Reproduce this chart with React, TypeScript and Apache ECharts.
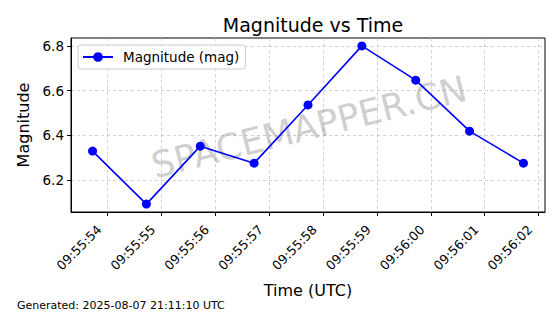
import React, { useEffect, useRef } from "react";
import * as echarts from "echarts";

const times = [
  "09:55:53.72", "09:55:54.72", "09:55:55.72", "09:55:56.72", "09:55:57.72",
  "09:55:58.72", "09:55:59.72", "09:56:00.72", "09:56:01.72",
];
const magnitudes = [6.33, 6.093, 6.352, 6.276, 6.536, 6.8, 6.647, 6.419, 6.276];
const xTickLabels = [
  "09:55:54", "09:55:55", "09:55:56", "09:55:57", "09:55:58",
  "09:55:59", "09:56:00", "09:56:01", "09:56:02",
];
const yTicks = [6.2, 6.4, 6.6, 6.8];

const toSec = (s: string) => {
  const [h, m, sec] = s.split(":");
  return Number(h) * 3600 + Number(m) * 60 + Number(sec);
};
const base = toSec(xTickLabels[0]);
const FONT = "DejaVu Sans";

export default function App() {
  const ref = useRef<HTMLDivElement>(null);
  useEffect(() => {
    if (!ref.current) return;
    const chart = echarts.init(ref.current, null, { renderer: "svg" });
    const xs = times.map((t) => +(toSec(t) - base).toFixed(3));
    const xTickVals = xTickLabels.map((t) => toSec(t) - base);
    const xMinD = Math.min(...xs), xMaxD = Math.max(...xs);
    const xPad = (xMaxD - xMinD) * 0.05;
    const yMinD = Math.min(...magnitudes), yMaxD = Math.max(...magnitudes);
    const yPad = (yMaxD - yMinD) * 0.05;
    const gridLine = { show: true, lineStyle: { color: "#c4c4c4", type: [3, 3], width: 0.8 } };
    chart.setOption({
      animation: false,
      backgroundColor: "#ffffff",
      title: {
        text: "Magnitude vs Time",
        left: 308,
        textAlign: "center",
        top: 10,
        textStyle: { fontFamily: FONT, fontSize: 19, fontWeight: "normal", color: "#000" },
      },
      legend: {
        left: 78,
        top: 45,
        itemWidth: 30,
        itemHeight: 12,
        padding: [5, 6, 5, 4],
        borderColor: "#cccccc",
        borderWidth: 1,
        borderRadius: 3,
        backgroundColor: "rgba(255,255,255,0.8)",
        textStyle: { fontFamily: FONT, fontSize: 13.5, color: "#000", padding: [0, 0, 0, 5] },
        data: ["Magnitude (mag)"],
      },
      grid: {
        left: 71,
        right: 15,
        top: 38,
        bottom: 102,
        show: true,
        borderColor: "#000",
        borderWidth: 1,
        backgroundColor: "transparent",
      },
      xAxis: {
        type: "value",
        min: xMinD - xPad,
        max: xMaxD + xPad,
        name: "Time (UTC)",
        nameLocation: "middle",
        nameGap: 70,
        nameTextStyle: { fontFamily: FONT, fontSize: 16, color: "#000" },
        axisLine: { show: true, onZero: false, lineStyle: { color: "#000", width: 1 } },
        axisTick: { show: true, length: 4, customValues: xTickVals, lineStyle: { color: "#000" } },
        axisLabel: {
          customValues: xTickVals,
          rotate: 45,
          margin: 7,
          padding: [0, 12, 0, 0],
          fontFamily: FONT,
          fontSize: 12.7,
          color: "#000",
          formatter: (v: number) => {
            const i = xTickVals.findIndex((t) => Math.abs(t - v) < 1e-6);
            return i >= 0 ? xTickLabels[i] : "";
          },
        },
        splitLine: gridLine,
      },
      yAxis: {
        type: "value",
        min: yMinD - yPad,
        max: yMaxD + yPad,
        name: "Magnitude",
        nameLocation: "middle",
        nameGap: 40,
        nameTextStyle: { fontFamily: FONT, fontSize: 16, color: "#000" },
        axisLine: { show: true, onZero: false, lineStyle: { color: "#000", width: 1 } },
        axisTick: { show: true, length: 4, customValues: yTicks, lineStyle: { color: "#000" } },
        axisLabel: {
          customValues: yTicks,
          margin: 7,
          fontFamily: FONT,
          fontSize: 13.5,
          color: "#000",
          formatter: (v: number) => v.toFixed(1),
        },
        splitLine: gridLine,
      },
      graphic: [
        {
          type: "text",
          left: 17,
          top: 300,
          style: {
            text: "Generated: 2025-08-07 21:11:10 UTC",
            fontFamily: FONT,
            fontSize: 11,
            fill: "#000",
          },
        },
        {
          type: "text",
          x: 309,
          y: 127,
          rotation: (14 * Math.PI) / 180,
          z: 1,
          silent: true,
          style: {
            text: "SPACEMAPPER.CN",
            fontFamily: FONT,
            fontSize: 36,
            fill: "rgba(128,128,128,0.38)",
            align: "center",
            verticalAlign: "middle",
          },
        },
      ],
      series: [
        {
          name: "Magnitude (mag)",
          type: "line",
          data: xs.map((x, i) => [x, magnitudes[i]]),
          symbol: "circle",
          symbolSize: 9,
          lineStyle: { color: "#0000ff", width: 1.6 },
          itemStyle: { color: "#0000ff" },
          z: 3,
        },
      ],
    });
    return () => chart.dispose();
  }, []);
  return <div ref={ref} style={{ width: 560, height: 314, position: "absolute", left: 0, top: 0 }} />;
}
